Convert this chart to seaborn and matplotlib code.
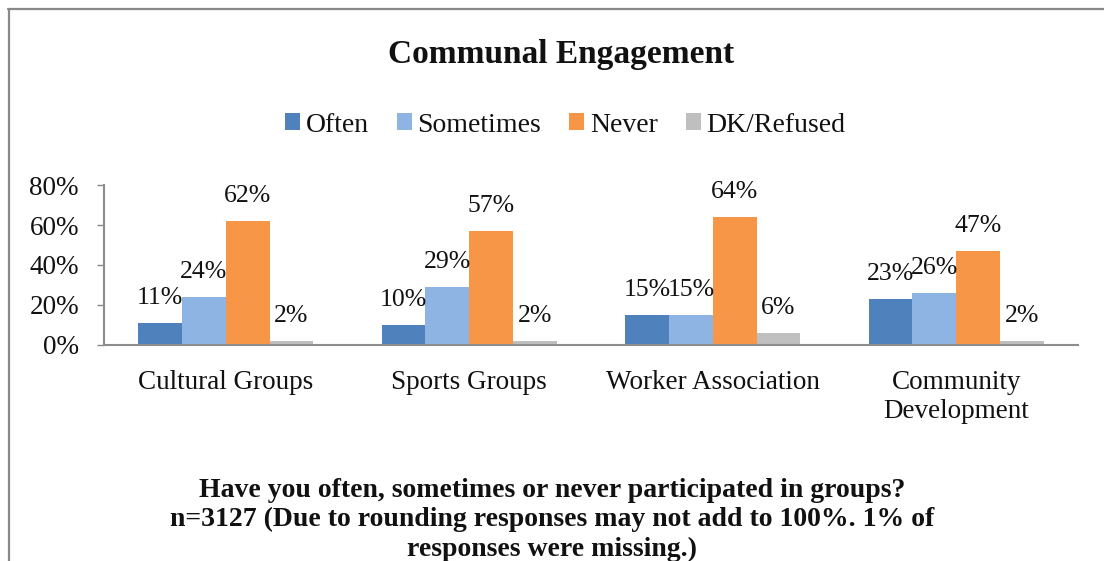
import matplotlib
matplotlib.use("Agg")
import matplotlib.pyplot as plt
from matplotlib.lines import Line2D
from matplotlib.ticker import FuncFormatter
import pandas as pd
import seaborn as sns

categories = ["Cultural Groups", "Sports Groups", "Worker Association", "Community\nDevelopment"]
responses = ["Often", "Sometimes", "Never", "DK/Refused"]
often = [11, 10, 15, 23]
sometimes = [24, 29, 15, 26]
never = [62, 57, 64, 47]
dk_refused = [2, 2, 6, 2]
palette = ["#4F81BD", "#8EB4E3", "#F79646", "#BFBFBF"]

title = "Communal Engagement"
footer = ("Have you often, sometimes or never participated in groups?\n"
          "n=3127 (Due to rounding responses may not add to 100%. 1% of\n"
          "responses were missing.)")

rows = []
for resp, vals in zip(responses, [often, sometimes, never, dk_refused]):
    for cat, v in zip(categories, vals):
        rows.append({"group": cat, "response": resp, "pct": v})
df = pd.DataFrame(rows)

sns.set_theme(style="white")
plt.rcParams["font.family"] = ["Liberation Serif", "DejaVu Serif"]

fig = plt.figure(figsize=(11.04, 5.61), dpi=100)
ax = fig.add_axes([104 / 1104, 1 - 345 / 561, (1078 - 104) / 1104, 160 / 561])

sns.barplot(data=df, x="group", y="pct", hue="response", order=categories,
            hue_order=responses, palette=palette, width=0.72, saturation=1,
            edgecolor="none", linewidth=0, legend=False, ax=ax)

for container in ax.containers:
    ax.bar_label(container, fmt="%d%%", padding=10, fontsize=18.5, color="#111111")

ax.set_ylim(0, 80)
ax.set_yticks([0, 20, 40, 60, 80])
ax.yaxis.set_major_formatter(FuncFormatter(lambda v, _: f"{v:.0f}%"))
ax.set_xlim(-0.5, len(categories) - 0.5)
ax.set_xlabel("")
ax.set_ylabel("")
ax.tick_params(axis="y", labelsize=19.5, length=5, width=1, color="#888888",
               direction="out", left=True, pad=13, labelcolor="#111111")
ax.tick_params(axis="x", labelsize=19.5, length=0, pad=18, labelcolor="#111111")
for lbl in ax.get_xticklabels():
    lbl.set_linespacing(1.2)
for side in ["top", "right"]:
    ax.spines[side].set_visible(False)
for side in ["left", "bottom"]:
    ax.spines[side].set_color("#8c8c8c")
    ax.spines[side].set_linewidth(1.5)

handles = [plt.Rectangle((0, 0), 1, 1, facecolor=c, edgecolor="none") for c in palette]
fig.legend(handles, responses, loc="center", bbox_to_anchor=(0.512, 1 - 125 / 561),
           ncol=4, frameon=False, fontsize=20, handlelength=0.55, handleheight=0.55,
           handletextpad=0.2, columnspacing=1.0, labelcolor="#111111")

fig.text(0.508, 1 - 55 / 561, title, ha="center", va="center",
         fontsize=24, fontweight="bold", color="#111111")
fig.text(0.5, 1 - 520 / 561, footer, ha="center", va="center",
         fontsize=20, fontweight="bold", linespacing=1.24, color="#111111")

# outer frame: top and left edges
fig.add_artist(Line2D([8 / 1104, 1], [1 - 9 / 561, 1 - 9 / 561],
                      transform=fig.transFigure, color="#888888", lw=1.6))
fig.add_artist(Line2D([9 / 1104, 9 / 1104], [0, 1 - 9 / 561],
                      transform=fig.transFigure, color="#888888", lw=1.6))

fig.savefig("out.png", dpi=100)
